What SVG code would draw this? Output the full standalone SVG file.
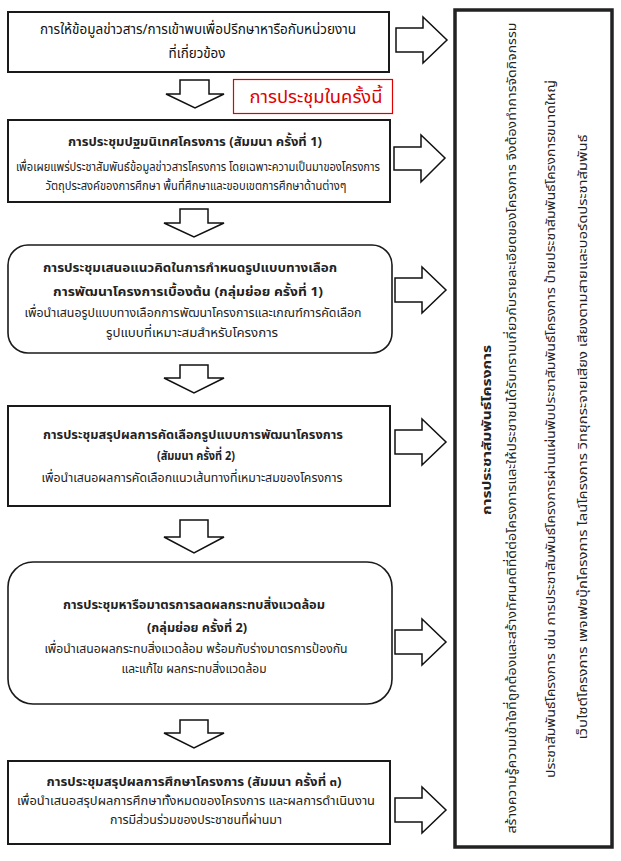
<svg xmlns="http://www.w3.org/2000/svg" width="621" height="861" viewBox="0 0 621 861">
<style>
.box{fill:#fff;stroke:#1a1a1a;stroke-width:2}
.rbox{fill:#fff;stroke:#1a1a1a;stroke-width:1.6}
.arr{fill:#fff;stroke:#111;stroke-width:1.5;stroke-linejoin:miter}
.t{font-family:Tahoma,"Noto Sans Thai","Noto Sans Thai UI","Noto Sans",sans-serif;font-size:13px;fill:#222;text-anchor:middle}
.s{font-family:Tahoma,"Noto Sans Thai","Noto Sans Thai UI","Noto Sans",sans-serif;font-size:12px;fill:#222;text-anchor:middle}
.b{font-family:Tahoma,"Noto Sans Thai","Noto Sans Thai UI","Noto Sans",sans-serif;font-size:13px;font-weight:bold;fill:#222;text-anchor:middle}
.h{font-family:Tahoma,"Noto Sans Thai","Noto Sans Thai UI","Noto Sans",sans-serif;font-size:14px;fill:#111;text-anchor:middle}
.red{font-family:Tahoma,"Noto Sans Thai","Noto Sans Thai UI","Noto Sans",sans-serif;font-size:18px;fill:#e00000;text-anchor:middle}
</style>
<rect width="621" height="861" fill="#fff"/>

<g id="node1">
<rect class="box" x="8" y="12" width="381" height="60"/>
<text class="h" x="198" y="34" textLength="316" lengthAdjust="spacingAndGlyphs">การให้ข้อมูลข่าวสาร/การเข้าพบเพื่อปรึกษาหารือกับหน่วยงาน</text>
<text class="h" x="197" y="58" textLength="57" lengthAdjust="spacingAndGlyphs">ที่เกี่ยวข้อง</text>
</g>

<g id="note">
<rect x="233.5" y="79.5" width="159" height="34" fill="#fff" stroke="#e00000" stroke-width="1.2"/>
<text class="red" x="316" y="103" textLength="133" lengthAdjust="spacingAndGlyphs">การประชุมในครั้งนี้</text>
</g>

<g id="node2">
<rect class="box" x="8" y="120" width="382" height="82"/>
<text class="b" x="195" y="146" textLength="254" lengthAdjust="spacingAndGlyphs">การประชุมปฐมนิเทศโครงการ (สัมมนา ครั้งที่ 1)</text>
<text class="s" x="198" y="171" textLength="364" lengthAdjust="spacingAndGlyphs">เพื่อเผยแพร่ประชาสัมพันธ์ข้อมูลข่าวสารโครงการ โดยเฉพาะความเป็นมาของโครงการ</text>
<text class="s" x="196" y="190" textLength="301" lengthAdjust="spacingAndGlyphs">วัตถุประสงค์ของการศึกษา พื้นที่ศึกษาและขอบเขตการศึกษาด้านต่างๆ</text>
</g>

<g id="node3">
<rect class="rbox" x="8" y="245" width="384" height="108" rx="20" ry="20"/>
<text class="b" x="190" y="272" textLength="294" lengthAdjust="spacingAndGlyphs">การประชุมเสนอแนวคิดในการกำหนดรูปแบบทางเลือก</text>
<text class="b" x="188" y="296" textLength="270" lengthAdjust="spacingAndGlyphs">การพัฒนาโครงการเบื้องต้น (กลุ่มย่อย ครั้งที่ 1)</text>
<text class="t" x="193" y="317" textLength="337" lengthAdjust="spacingAndGlyphs">เพื่อนำเสนอรูปแบบทางเลือกการพัฒนาโครงการและเกณฑ์การคัดเลือก</text>
<text class="t" x="192" y="337" textLength="172" lengthAdjust="spacingAndGlyphs">รูปแบบที่เหมาะสมสำหรับโครงการ</text>
</g>

<g id="node4">
<rect class="box" x="8" y="406" width="382" height="100"/>
<text class="b" x="193" y="439" textLength="300" lengthAdjust="spacingAndGlyphs">การประชุมสรุปผลการคัดเลือกรูปแบบการพัฒนาโครงการ</text>
<text class="b" x="196" y="460" textLength="78" lengthAdjust="spacingAndGlyphs">(สัมมนา ครั้งที่ 2)</text>
<text class="t" x="192" y="482" textLength="301" lengthAdjust="spacingAndGlyphs">เพื่อนำเสนอผลการคัดเลือกแนวเส้นทางที่เหมาะสมของโครงการ</text>
</g>

<g id="node5">
<rect class="rbox" x="8" y="562" width="384" height="142" rx="25" ry="25"/>
<text class="b" x="194" y="609" textLength="262" lengthAdjust="spacingAndGlyphs">การประชุมหารือมาตรการลดผลกระทบสิ่งแวดล้อม</text>
<text class="b" x="197" y="632" textLength="100" lengthAdjust="spacingAndGlyphs">(กลุ่มย่อย ครั้งที่ 2)</text>
<text class="t" x="196" y="653" textLength="303" lengthAdjust="spacingAndGlyphs">เพื่อนำเสนอผลกระทบสิ่งแวดล้อม พร้อมกับร่างมาตรการป้องกัน</text>
<text class="t" x="194" y="673" textLength="145" lengthAdjust="spacingAndGlyphs">และแก้ไข ผลกระทบสิ่งแวดล้อม</text>
</g>

<g id="node6">
<rect class="box" x="8" y="761" width="382" height="83"/>
<text class="b" x="194" y="786" textLength="295" lengthAdjust="spacingAndGlyphs">การประชุมสรุปผลการศึกษาโครงการ (สัมมนา ครั้งที่ ๓)</text>
<text class="s" x="196" y="805" textLength="358" lengthAdjust="spacingAndGlyphs">เพื่อนำเสนอสรุปผลการศึกษาทั้งหมดของโครงการ และผลการดำเนินงาน</text>
<text class="s" x="196" y="824" textLength="172" lengthAdjust="spacingAndGlyphs">การมีส่วนร่วมของประชาชนที่ผ่านมา</text>
</g>

<g id="panel">
<rect x="455" y="10" width="157" height="837" fill="#fff" stroke="#222" stroke-width="3.5"/>
<text class="b" transform="translate(491,430) rotate(-90)" textLength="170" lengthAdjust="spacingAndGlyphs">การประชาสัมพันธ์โครงการ</text>
<text class="t" transform="translate(516,428) rotate(-90)" textLength="811" lengthAdjust="spacingAndGlyphs">สร้างความรู้ความเข้าใจที่ถูกต้องและสร้างทัศนคติที่ดีต่อโครงการและให้ประชาชนได้รับทราบเกี่ยวกับรายละเอียดของโครงการ จึงต้องทำการจัดกิจกรรม</text>
<text class="t" transform="translate(555,429) rotate(-90)" textLength="698" lengthAdjust="spacingAndGlyphs">ประชาสัมพันธ์โครงการ เช่น การประชาสัมพันธ์โครงการผ่านแผ่นพับประชาสัมพันธ์โครงการ ป้ายประชาสัมพันธ์โครงการขนาดใหญ่</text>
<text class="t" transform="translate(587,437) rotate(-90)" textLength="605" lengthAdjust="spacingAndGlyphs">เว็บไซต์โครงการ เพจเฟซบุ๊กโครงการ ไลน์โครงการ วิทยุกระจายเสียง เสียงตามสายและบอร์ดประชาสัมพันธ์</text>
</g>

<g id="connectors">
<path class="arr" d="M180,80 V94 H166 L195,108 L224,94 H209 V80 Z"/>
<path class="arr" d="M180,209 V223 H164 L194,237 L224,223 H208 V209 Z"/>
<path class="arr" d="M180,365 V378 H164 L194,393 L224,378 H208 V365 Z"/>
<path class="arr" d="M180,520 V537 H164 L194,553 L224,537 H208 V520 Z"/>
<path class="arr" d="M180,720 V733 H164 L194,748 L224,733 H208 V720 Z"/>

<path class="arr" d="M396,28 H423 V17 L447,40 L423,63 V52 H396 Z"/>
<path class="arr" d="M394,147 H421 V135 L445,158 L421,182 V170 H394 Z"/>
<path class="arr" d="M395,278 H422 V267 L446,290 L422,313 V302 H395 Z"/>
<path class="arr" d="M395,430 H422 V419 L446,442 L422,465 V454 H395 Z"/>
<path class="arr" d="M395,630 H422 V619 L446,642 L422,665 V654 H395 Z"/>
<path class="arr" d="M395,798 H422 V787 L446,810 L422,833 V822 H395 Z"/>
</g>
</svg>
